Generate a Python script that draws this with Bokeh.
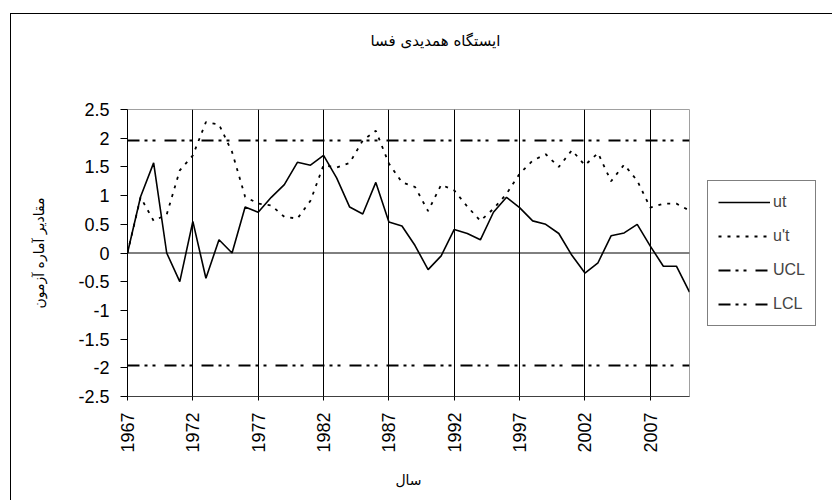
import math
from bokeh.plotting import figure
from bokeh.models import Legend, LegendItem, FixedTicker, Span, Range1d, Title
from bokeh.embed import file_html
from bokeh.resources import INLINE

years = [1967, 1968, 1969, 1970, 1971, 1972, 1973, 1974, 1975, 1976, 1977,
         1978, 1979, 1980, 1981, 1982, 1983, 1984, 1985, 1986, 1987, 1988,
         1989, 1990, 1991, 1992, 1993, 1994, 1995, 1996, 1997, 1998, 1999,
         2000, 2001, 2002, 2003, 2004, 2005, 2006, 2007, 2008, 2009, 2010]

ut = [0.0, 0.98, 1.57, 0.0, -0.50, 0.55, -0.44, 0.23, 0.0, 0.80, 0.71,
      0.97, 1.19, 1.58, 1.53, 1.70, 1.31, 0.80, 0.68, 1.23, 0.54, 0.47,
      0.13, -0.29, -0.05, 0.41, 0.34, 0.23, 0.71, 0.97, 0.79, 0.56, 0.50,
      0.34, -0.04, -0.35, -0.17, 0.30, 0.35, 0.50, 0.12, -0.23, -0.23, -0.68]

u_t = [0.0, 0.97, 0.56, 0.67, 1.44, 1.70, 2.28, 2.24, 1.76, 0.98, 0.86,
       0.83, 0.63, 0.60, 0.91, 1.53, 1.49, 1.57, 1.96, 2.13, 1.56, 1.23,
       1.15, 0.73, 1.19, 1.09, 0.81, 0.56, 0.77, 1.03, 1.38, 1.61, 1.72,
       1.50, 1.79, 1.53, 1.74, 1.25, 1.54, 1.26, 0.79, 0.86, 0.86, 0.74]

ucl_value = 1.96
lcl_value = -1.96

x_ticks = [1967, 1972, 1977, 1982, 1987, 1992, 1997, 2002, 2007]
y_ticks = [-2.5, -2, -1.5, -1, -0.5, 0, 0.5, 1, 1.5, 2, 2.5]
y_tick_labels = ["-2.5", "-2", "-1.5", "-1", "-0.5", "0", "0.5", "1", "1.5", "2", "2.5"]

title_text = "ایستگاه همدیدی فسا"
x_label = "سال"
y_label = "مقادیر آماره آزمون"

NUM_FONT = "Liberation Sans"
AR_FONT = "DejaVu Sans"

p = figure(frame_width=562, frame_height=287, output_backend="svg", toolbar_location=None,
           x_range=Range1d(years[0], years[-1]), y_range=Range1d(-2.5, 2.5),
           min_border_left=127, min_border_right=143, min_border_top=109,
           min_border_bottom=104, background_fill_color="white",
           border_fill_color="white", border_fill_alpha=0,
           styles={"background-image": "linear-gradient(#000,#000), linear-gradient(#000,#000)",
                   "background-size": "1px 100%, 100% 1px",
                   "background-position": "10px 13px, 10px 13px",
                   "background-repeat": "no-repeat"})

p.title.text = title_text
p.title.text_font = AR_FONT
p.title.text_font_size = "15px"
p.title.text_font_style = "normal"
p.title.text_color = "black"
p.title.align = "left"
p.title.offset = 243
p.title.standoff = 10

# empty spacer between the title and the plot area
spacer = Title(text=" ", text_font_size="15px", standoff=36)
p.add_layout(spacer, "above")

p.outline_line_color = "#a0a0a0"
p.outline_line_width = 1

# axes
p.xaxis.ticker = FixedTicker(ticks=x_ticks)
p.yaxis.ticker = FixedTicker(ticks=y_ticks)
p.yaxis.major_label_overrides = {t: s for t, s in zip(y_ticks, y_tick_labels)}
p.xaxis.major_label_orientation = math.pi / 2
for ax in (p.xaxis, p.yaxis):
    ax.major_label_text_font = NUM_FONT
    ax.major_label_text_font_size = "18px"
    ax.major_label_text_color = "black"
    ax.axis_label_text_font = AR_FONT
    ax.axis_label_text_font_size = "14px"
    ax.axis_label_text_font_style = "normal"
    ax.axis_label_text_color = "black"
    ax.minor_tick_line_color = None
    ax.major_tick_in = 0
    ax.axis_line_color = "black"
    ax.major_tick_line_color = "black"
p.yaxis.major_tick_out = 7
p.yaxis.major_label_standoff = 11
p.yaxis.axis_label = y_label
p.yaxis.axis_label_standoff = 28
p.xaxis.major_tick_out = 4
p.xaxis.major_label_standoff = 12
p.xaxis.axis_label = x_label
p.xaxis.axis_label_standoff = 16
p.xaxis.axis_line_color = "#404040"

p.xgrid.ticker = FixedTicker(ticks=x_ticks)
p.xgrid.grid_line_color = "black"
p.xgrid.grid_line_width = 1
p.ygrid.grid_line_color = None

p.add_layout(Span(location=0, dimension="width", line_color="black", line_width=1))

r_ut = p.line(years, ut, line_color="black", line_width=1.6)
r_u = p.line(years, u_t, line_color="black", line_width=1.8, line_dash="3 6")
r_ucl = p.line([years[0], years[-1]], [ucl_value, ucl_value], line_color="black",
               line_width=2, line_dash="12 5 3 5 3 9")
r_lcl = p.line([years[0], years[-1]], [lcl_value, lcl_value], line_color="black",
               line_width=2, line_dash="12 5 3 5 3 9")

legend = Legend(items=[LegendItem(label="ut", renderers=[r_ut]),
                       LegendItem(label="u't", renderers=[r_u]),
                       LegendItem(label="UCL", renderers=[r_ucl]),
                       LegendItem(label="LCL", renderers=[r_lcl])],
                location="left", orientation="vertical",
                glyph_width=52, glyph_height=22, label_height=22, spacing=12,
                padding=10, margin=18, label_standoff=3,
                label_text_font=NUM_FONT, label_text_font_size="16px",
                border_line_color="black", border_line_width=1,
                background_fill_color="white", background_fill_alpha=1)
p.add_layout(legend, "right")

open("out.html", "w").write(file_html(p, INLINE))
